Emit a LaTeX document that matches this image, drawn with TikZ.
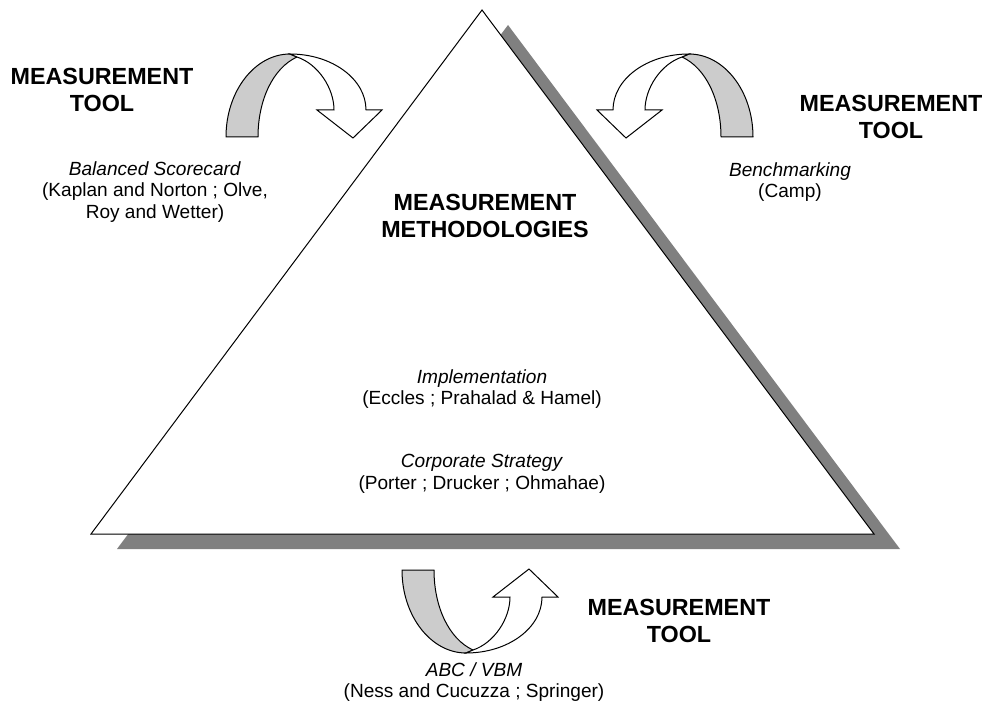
\documentclass[tikz,border=0pt]{standalone}
\usepackage{fontspec}
\setmainfont{Liberation Sans}
\usepackage{tikz}
\usetikzlibrary{positioning}
\definecolor{shadowgray}{RGB}{128,128,128}
\definecolor{bandgray}{RGB}{204,204,204}

\tikzset{
    headtxt/.style={font=\bfseries\fontsize{17.5}{20}\selectfont, align=center, inner sep=0pt},
    citetxt/.style={font=\fontsize{14.3}{16.2}\selectfont, align=center, inner sep=0pt},
    bandback/.style={draw, line width=0.75pt, fill=bandgray, line join=round},
    bandfront/.style={draw, line width=0.75pt, fill=white, line join=miter}
}

\begin{document}
\begin{tikzpicture}[x=0.75pt, y=-0.75pt]
    \useasboundingbox (0,0) rectangle (992,713);

    % Pyramid with its shadow
    \fill[shadowgray] (508,25) -- (900,549) -- (117,549) -- cycle;
    \draw[fill=white, line width=0.75pt] (482,10) -- (874,534) -- (91,534) -- cycle;

    % Curved arrows (one shape, mirrored)
    \foreach \sx/\sy/\dx/\dy in {1/1/0/0, -1/1/979/0, 1/-1/176/707} {
        \begin{scope}[shift={(\dx,\dy)}, xscale=\sx, yscale=\sy]
            \draw[bandback] (226,137) -- (258,137) .. controls (258,100) and (273,68) .. (297,57)
                -- (290,54) .. controls (255,54) and (226,91) .. (226,137) -- cycle;
            \draw[bandfront] (290,54) .. controls (332,54) and (366,79) .. (366,110)
                -- (382,110) -- (353,138) -- (317,110) -- (334,110)
                .. controls (334,88) and (318,64) .. (297,57) -- cycle;
        \end{scope}
    }

    % Headings
    \node[headtxt] (tlhead) at (102,90) {MEASUREMENT\\TOOL};
    \node[headtxt] (trhead) at (891,117) {MEASUREMENT\\TOOL};
    \node[headtxt] (brhead) at (679,621) {MEASUREMENT\\TOOL};
    \node[headtxt] (methhead) at (485,216) {MEASUREMENT\\METHODOLOGIES};

    % Tools and references
    \node[citetxt] (bsc) at (155,192) {\textit{Balanced Scorecard}\\(Kaplan and Norton ; Olve,\\Roy and Wetter)};
    \node[citetxt] (bench) at (790,182) {\textit{Benchmarking}\\(Camp)};
    \node[citetxt] (impl) at (482,389) {\textit{Implementation}\\(Eccles ; Prahalad \& Hamel)};
    \node[citetxt] (strat) at (482,474) {\textit{Corporate Strategy}\\(Porter ; Drucker ; Ohmahae)};
    \node[citetxt] (abc) at (474,682) {\textit{ABC / VBM}\\(Ness and Cucuzza ; Springer)};
\end{tikzpicture}
\end{document}
